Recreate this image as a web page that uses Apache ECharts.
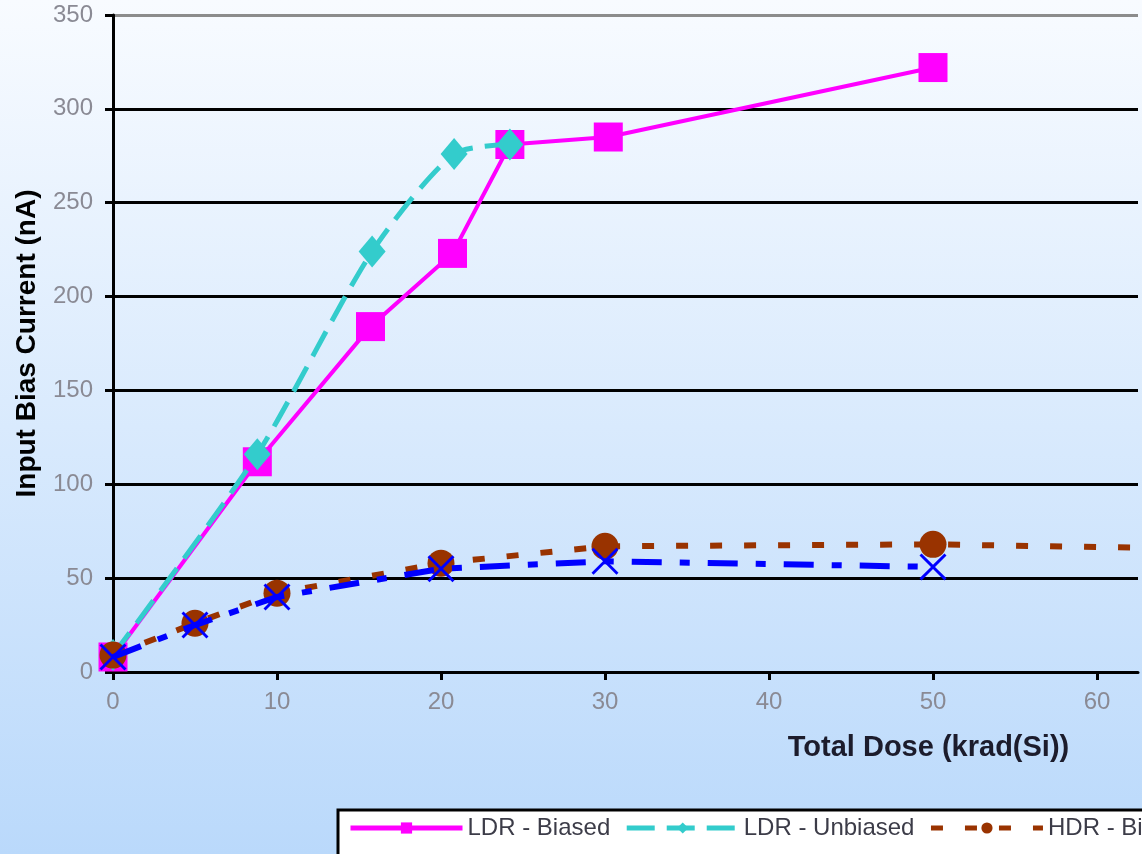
<!DOCTYPE html>
<html>
<head>
<meta charset="utf-8">
<style>
  html, body { margin: 0; padding: 0; overflow: hidden; }
  #chart { width: 1142px; height: 854px; }
</style>
<script src="https://cdn.jsdelivr.net/npm/echarts@6/dist/echarts.min.js"></script>
</head>
<body>
<div id="chart"></div>
<script>
// ---- data ----
const seriesNames = ['LDR - Biased', 'LDR - Unbiased', 'HDR - Biased', 'HDR - Unbiased'];

const ldrBiasedDose    = [0, 8.8, 15.7, 20.7, 24.2, 30.2, 50];
const ldrBiasedCurrent = [8, 112, 184, 223, 281, 285, 322];

const ldrUnbiasedDose    = [0, 8.8, 15.8, 20.8, 24.2];
const ldrUnbiasedCurrent = [9, 116, 224, 276, 281];

const hdrBiasedDose    = [0, 5, 10, 20, 30, 50, 100];
const hdrBiasedCurrent = [9, 26, 42, 58, 67, 68, 61];

const hdrUnbiasedDose    = [0, 5, 10, 20, 30, 50];
const hdrUnbiasedCurrent = [8, 25, 40, 55, 59, 56];

const xTickValues = [0, 10, 20, 30, 40, 50, 60];
const yTickValues = [0, 50, 100, 150, 200, 250, 300, 350];

const xTitle = 'Total Dose (krad(Si))';
const yTitle = 'Input Bias Current (nA)';

function pairs(xs, ys) { return xs.map((x, i) => [x, ys[i]]); }

const X_SYMBOL = 'path://M0,1.5 L1.5,0 L10,8.5 L18.5,0 L20,1.5 L11.5,10 L20,18.5 L18.5,20 L10,11.5 L1.5,20 L0,18.5 L8.5,10 Z';

const chart = echarts.init(document.getElementById('chart'), null, { renderer: 'canvas' });

const labelFont = { color: '#8a8a94', fontSize: 24, fontFamily: '"Liberation Sans", Arial, sans-serif' };

const option = {
  backgroundColor: {
    type: 'linear', x: 0, y: 0, x2: 0, y2: 1,
    colorStops: [
      { offset: 0, color: '#f8fbff' },
      { offset: 1, color: '#bad9fb' }
    ]
  },
  animation: false,
  grid: { left: 113, top: 15, right: 4, bottom: 182, containLabel: false },
  legend: {
    data: seriesNames,
    left: 338,
    top: 810,
    width: 2400,
    orient: 'horizontal',
    backgroundColor: '#ffffff',
    borderColor: '#000000',
    borderWidth: 3,
    borderRadius: 0,
    padding: [6, 10, 20, 10],
    itemWidth: 112,
    itemHeight: 14,
    itemGap: 14,
    lineStyle: { width: 5 },
    textStyle: { color: '#3c3c48', fontSize: 24, fontFamily: '"Liberation Sans", Arial, sans-serif' }
  },
  xAxis: {
    type: 'value',
    min: 0,
    max: 62.5,
    interval: 10,
    name: xTitle,
    nameLocation: 'middle',
    nameGap: 61,
    nameTextStyle: {
      color: '#1c1c2c', fontSize: 29, fontWeight: 'bold',
      fontFamily: '"Liberation Sans", Arial, sans-serif',
      align: 'center', verticalAlign: 'top',
      padding: [0, 0, 0, 606]
    },
    axisLine: { show: true, onZero: false, lineStyle: { color: '#000', width: 3 } },
    axisTick: { show: true, inside: false, length: 8, lineStyle: { color: '#000', width: 3 }, customValues: xTickValues },
    axisLabel: Object.assign({ margin: 18, customValues: xTickValues }, labelFont),
    splitLine: { show: false }
  },
  yAxis: {
    type: 'value',
    min: 0,
    max: 350,
    interval: 50,
    name: yTitle,
    nameLocation: 'middle',
    nameGap: 72,
    nameTextStyle: {
      color: '#000', fontSize: 28, fontWeight: 'bold',
      fontFamily: '"Liberation Sans", Arial, sans-serif'
    },
    axisLine: { show: true, onZero: false, lineStyle: { color: '#000', width: 3 } },
    axisTick: { show: true, inside: false, length: 8, lineStyle: { color: '#000', width: 3 } },
    axisLabel: Object.assign({ margin: 20 }, labelFont),
    splitLine: {
      show: true,
      lineStyle: { color: ['#000', '#000', '#000', '#000', '#000', '#000', '#000', '#8c8c8c'], width: 3 }
    }
  },
  series: [
    {
      name: seriesNames[0], type: 'line',
      data: pairs(ldrBiasedDose, ldrBiasedCurrent),
      symbol: 'rect', symbolSize: 29,
      itemStyle: { color: '#ff00ff' },
      lineStyle: { color: '#ff00ff', width: 4, type: 'solid' },
      z: 2
    },
    {
      name: seriesNames[1], type: 'line',
      data: pairs(ldrUnbiasedDose, ldrUnbiasedCurrent),
      symbol: 'diamond', symbolSize: [27, 32],
      smooth: 0.25,
      itemStyle: { color: '#33cccc' },
      lineStyle: { color: '#33cccc', width: 5, type: [28, 12] },
      z: 3
    },
    {
      name: seriesNames[2], type: 'line',
      data: pairs(hdrBiasedDose, hdrBiasedCurrent),
      symbol: 'circle', symbolSize: 27,
      itemStyle: { color: '#993300' },
      lineStyle: { color: '#993300', width: 6, type: [12, 22] },
      z: 4
    },
    {
      name: seriesNames[3], type: 'line',
      data: pairs(hdrUnbiasedDose, hdrUnbiasedCurrent),
      symbol: X_SYMBOL, symbolSize: 27,
      itemStyle: { color: '#0000ff' },
      lineStyle: { color: '#0000ff', width: 6, type: [30, 18, 10, 18] },
      z: 5
    }
  ]
};

chart.setOption(option);
</script>
</body>
</html>
